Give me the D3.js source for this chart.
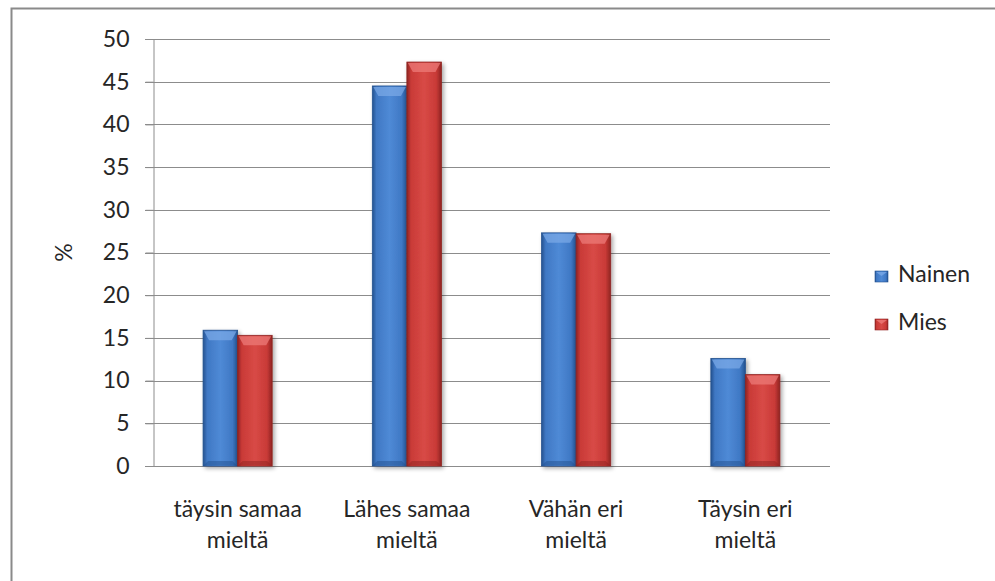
<!DOCTYPE html>
<html>
<head>
<meta charset="utf-8">
<script src="https://cdn.jsdelivr.net/npm/d3@7"></script>
<style>
  html, body { margin: 0; padding: 0; background: #fff; }
  svg { display: block; }
  svg text { font-family: Lato, "Open Sans", sans-serif; }
</style>
</head>
<body>
<svg id="chart" width="995" height="581"></svg>
<script>
// Survey answers by gender (%)
const categories = ["täysin samaa mieltä", "Lähes samaa mieltä", "Vähän eri mieltä", "Täysin eri mieltä"];
const categoryLines = [["täysin samaa", "mieltä"], ["Lähes samaa", "mieltä"], ["Vähän eri", "mieltä"], ["Täysin eri", "mieltä"]];
const seriesNames = ["Nainen", "Mies"];
const nainen = [15.9, 44.5, 27.3, 12.6];
const mies = [15.3, 47.3, 27.2, 10.7];
const yTicks = [0, 5, 10, 15, 20, 25, 30, 35, 40, 45, 50];
const yLabel = "%";

const FS = 23;
const TEXT = "#262626";
const svg = d3.select("#chart");
const margin = { left: 153, right: 165, top: 39, bottom: 115 };
const W = 995, H = 581;

// outer chart frame
svg.append("rect").attr("x", 11.5).attr("y", 8.5).attr("width", 1000).attr("height", 600)
  .attr("fill", "#fff").attr("stroke", "#8a8a8a").attr("stroke-width", 2);

const x0 = d3.scaleBand().domain(categories).range([margin.left, W - margin.right]).paddingInner(0).paddingOuter(0);
const x1 = d3.scaleBand().domain(seriesNames).range([0, x0.bandwidth()]).paddingInner(0).paddingOuter(1.45);
const y = d3.scaleLinear().domain([0, 50]).range([H - margin.bottom, margin.top]);

// gradients for bevelled bars
const defs = svg.append("defs");
const palettes = {
  Nainen: { dark: "#24528f", mid: "#3f78c4", light: "#4f8ad6", top: "#79a8e6" },
  Mies: { dark: "#8f2422", mid: "#c93a37", light: "#d84a46", top: "#ec7b78" }
};
seriesNames.forEach(s => {
  const p = palettes[s];
  const g = defs.append("linearGradient").attr("id", "grad-" + s).attr("x1", 0).attr("x2", 1).attr("y1", 0).attr("y2", 0);
  g.append("stop").attr("offset", 0).attr("stop-color", p.dark);
  g.append("stop").attr("offset", 0.12).attr("stop-color", p.mid);
  g.append("stop").attr("offset", 0.5).attr("stop-color", p.light);
  g.append("stop").attr("offset", 0.85).attr("stop-color", p.mid);
  g.append("stop").attr("offset", 1).attr("stop-color", p.dark);
});
const shadow = defs.append("filter").attr("id", "shadow").attr("x", "-20%").attr("y", "-5%").attr("width", "150%").attr("height", "115%");
shadow.append("feGaussianBlur").attr("in", "SourceAlpha").attr("stdDeviation", 2).attr("result", "b");
shadow.append("feOffset").attr("in", "b").attr("dx", 2).attr("dy", 2).attr("result", "o");
shadow.append("feComponentTransfer").attr("in", "o").attr("result", "s")
  .append("feFuncA").attr("type", "linear").attr("slope", 0.35);
const merge = shadow.append("feMerge");
merge.append("feMergeNode").attr("in", "s");
merge.append("feMergeNode").attr("in", "SourceGraphic");

// gridlines
svg.append("g").selectAll("line").data(yTicks).join("line")
  .attr("x1", margin.left - 8).attr("x2", W - margin.right)
  .attr("y1", d => Math.round(y(d)) + 0.5).attr("y2", d => Math.round(y(d)) + 0.5)
  .attr("stroke", "#8c8c8c").attr("stroke-width", 1);

// y axis
const yAxis = d3.axisLeft(y).tickValues(yTicks).tickSize(8).tickPadding(16);
const gy = svg.append("g").attr("transform", `translate(${margin.left + 0.5},0)`).call(yAxis)
  .attr("font-family", null).attr("font-size", FS);
gy.select(".domain").attr("stroke", "#8c8c8c");
gy.selectAll(".tick line").attr("stroke", "#8c8c8c");
gy.selectAll(".tick text").attr("fill", TEXT);

svg.append("text").attr("transform", `translate(72,${(y(0) + y(50)) / 2}) rotate(-90)`)
  .attr("text-anchor", "middle").attr("font-size", FS).attr("fill", TEXT).text(yLabel);

// bars
const data = categories.map((c, i) => ({ c, values: [{ s: "Nainen", v: nainen[i] }, { s: "Mies", v: mies[i] }] }));
const groups = svg.append("g").selectAll("g").data(data).join("g")
  .attr("transform", d => `translate(${x0(d.c)},0)`);
const bars = groups.selectAll("g").data(d => d.values).join("g").attr("filter", "url(#shadow)");
bars.append("rect")
  .attr("x", d => x1(d.s)).attr("width", x1.bandwidth())
  .attr("y", d => y(d.v)).attr("height", d => y(0) - y(d.v))
  .attr("fill", d => `url(#grad-${d.s})`)
  .attr("stroke", d => palettes[d.s].dark).attr("stroke-width", 0.8);
// bevel cap on the top of each bar
bars.append("path")
  .attr("d", d => {
    const xl = x1(d.s), w = x1.bandwidth(), yt = y(d.v), b = 6;
    return `M${xl + 1},${yt + 1} L${xl + w - 1},${yt + 1} L${xl + w - b},${yt + b + 4} L${xl + b},${yt + b + 4} Z`;
  })
  .attr("fill", d => palettes[d.s].top).attr("opacity", 0.75);
// darker base bevel
bars.append("path")
  .attr("d", d => {
    const xl = x1(d.s), w = x1.bandwidth(), yb = y(0), b = 5;
    return `M${xl + 1},${yb - 1} L${xl + w - 1},${yb - 1} L${xl + w - b},${yb - b} L${xl + b},${yb - b} Z`;
  })
  .attr("fill", d => palettes[d.s].dark).attr("opacity", 0.5);

// x axis labels
const xl = svg.append("g");
categories.forEach((c, i) => {
  const cx = x0(c) + x0.bandwidth() / 2;
  const t = xl.append("text").attr("text-anchor", "middle").attr("font-size", FS).attr("fill", TEXT)
    .attr("x", cx).attr("y", 517);
  categoryLines[i].forEach((line, j) => {
    t.append("tspan").attr("x", cx).attr("dy", j === 0 ? 0 : 31).text(line);
  });
});

// legend
const legend = svg.append("g").attr("transform", "translate(875,271)");
seriesNames.forEach((s, i) => {
  const g = legend.append("g").attr("transform", `translate(0,${i * 48})`);
  g.append("rect").attr("width", 13).attr("height", 11).attr("fill", `url(#grad-${s})`)
    .attr("stroke", palettes[s].dark).attr("stroke-width", 0.6);
  g.append("path").attr("d", "M1,1 L12,1 L6.5,5 Z").attr("fill", palettes[s].top).attr("opacity", 0.8);
  g.append("text").attr("x", 23).attr("y", 11).attr("font-size", FS).attr("fill", TEXT).text(s);
});
</script>
</body>
</html>
